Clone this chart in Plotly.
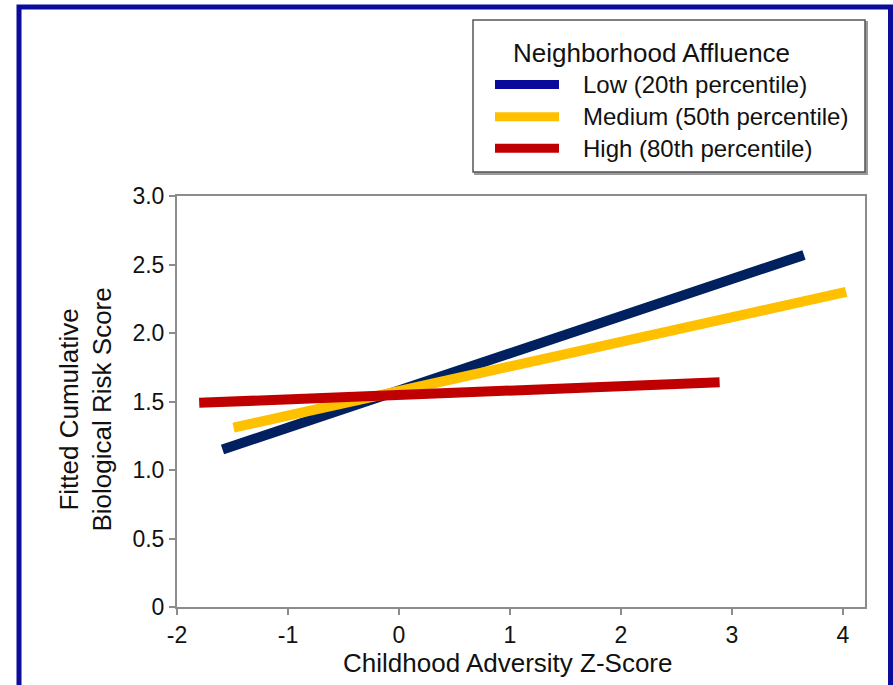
import plotly.graph_objects as go

# Fitted biological risk by childhood adversity, one line per affluence level
adversity_low = [-1.59, 3.65]
risk_low = [1.15, 2.57]
adversity_med = [-1.49, 4.03]
risk_med = [1.31, 2.30]
adversity_high = [-1.80, 2.89]
risk_high = [1.49, 1.64]

series_names = ["Low (20th percentile)", "Medium (50th percentile)", "High (80th percentile)"]
line_colors = ["#002060", "#ffc000", "#c00000"]
swatch_colors = ["#0a0a9a", "#ffc000", "#c00000"]
legend_title = "Neighborhood Affluence"

x_tick_vals = [-2, -1, 0, 1, 2, 3, 4]
x_tick_text = ["-2", "-1", "0", "1", "2", "3", "4"]
y_tick_vals = [0, 0.5, 1.0, 1.5, 2.0, 2.5, 3.0]
y_tick_text = ["0", "0.5", "1.0", "1.5", "2.0", "2.5", "3.0"]

x_title = "Childhood Adversity Z-Score"
y_title = "Fitted Cumulative<br>Biological Risk Score"

FONT = "Liberation Sans, Arial, Helvetica, sans-serif"
AXIS_GREY = "#8c8c8c"

W, H = 893, 685
L, R, T, B = 177, 28, 196, 78
PW, PH = W - L - R, H - T - B


def px(x):
    """Pixel column -> paper x."""
    return (x - L) / PW


def py(y):
    """Pixel row -> paper y."""
    return (H - B - y) / PH


fig = go.Figure()
for xs, ys, name, color in zip(
    [adversity_low, adversity_med, adversity_high],
    [risk_low, risk_med, risk_high],
    series_names,
    line_colors,
):
    fig.add_trace(go.Scatter(x=xs, y=ys, mode="lines", name=name,
                             line=dict(color=color, width=10),
                             showlegend=False, hoverinfo="skip"))

shapes = []
# outer blue frame
shapes.append(dict(type="rect", xref="paper", yref="paper",
                   x0=px(19), x1=px(890.5), y0=py(7), y1=py(720),
                   line=dict(color="#0b0b9c", width=5), fillcolor="rgba(0,0,0,0)",
                   layer="above"))
# legend box with drop shadow
shapes.append(dict(type="rect", xref="paper", yref="paper",
                   x0=px(475), x1=px(867), y0=py(22), y1=py(174),
                   line=dict(color="#9a9a9a", width=2), fillcolor="#9a9a9a",
                   layer="above"))
shapes.append(dict(type="rect", xref="paper", yref="paper",
                   x0=px(473), x1=px(865), y0=py(20), y1=py(172),
                   line=dict(color="#555555", width=1.5), fillcolor="white",
                   layer="above"))

annotations = [
    dict(text=legend_title, x=px(511), y=py(52.5), xref="paper", yref="paper",
         xanchor="left", yanchor="middle", showarrow=False,
         font=dict(family=FONT, size=26, color="#111111")),
]
entry_rows = [84.5, 116.7, 148.3]
for name, color, row in zip(series_names, swatch_colors, entry_rows):
    shapes.append(dict(type="line", xref="paper", yref="paper",
                       x0=px(495), x1=px(559), y0=py(row), y1=py(row),
                       line=dict(color=color, width=9), layer="above"))
    annotations.append(dict(text=name, x=px(581), y=py(row), xref="paper", yref="paper",
                            xanchor="left", yanchor="middle", showarrow=False,
                            font=dict(family=FONT, size=24, color="#111111")))

# axis titles
annotations.append(dict(text=x_title, x=px(507.5), y=py(663), xref="paper", yref="paper",
                        xanchor="center", yanchor="middle", showarrow=False,
                        font=dict(family=FONT, size=26, color="#111111")))
annotations.append(dict(text=y_title, x=px(85.5), y=py(410), xref="paper", yref="paper",
                        xanchor="center", yanchor="middle", showarrow=False, textangle=-90,
                        font=dict(family=FONT, size=26, color="#111111")))

axis_common = dict(showline=True, mirror=True, linecolor=AXIS_GREY, linewidth=2,
                   ticks="outside", ticklen=6, tickwidth=1.5, tickcolor=AXIS_GREY,
                   showgrid=False, zeroline=False,
                   tickfont=dict(family=FONT, size=23, color="#111111"))

fig.update_layout(
    width=W, height=H,
    margin=dict(l=L, r=R, t=T, b=B, pad=0),
    paper_bgcolor="white", plot_bgcolor="white",
    font=dict(family=FONT),
    xaxis=dict(range=[-2, 4.2], tickmode="array", tickvals=x_tick_vals,
               ticktext=x_tick_text, **axis_common),
    yaxis=dict(range=[0, 3], tickmode="array", tickvals=y_tick_vals,
               ticktext=y_tick_text, **axis_common),
    shapes=shapes,
    annotations=annotations,
    showlegend=False,
)

fig.write_html("out.html")
